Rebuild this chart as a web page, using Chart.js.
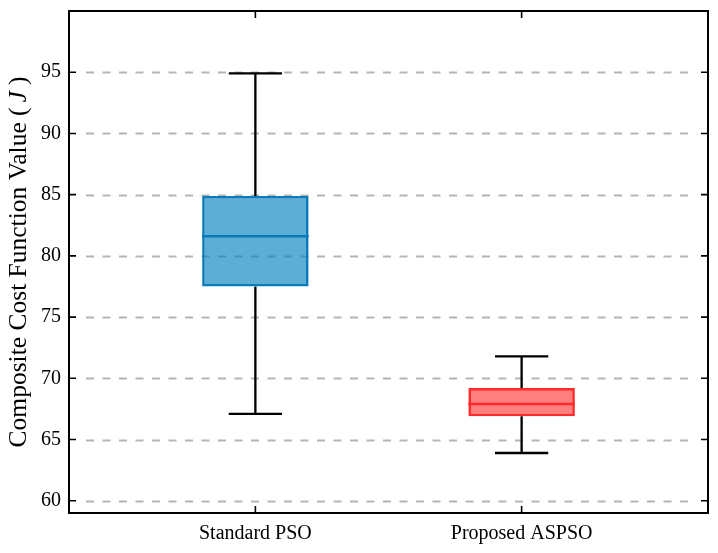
<!DOCTYPE html>
<html>
<head>
<meta charset="utf-8">
<title>Composite cost box plot</title>
<script src="https://cdn.jsdelivr.net/npm/chart.js@4.4.0/dist/chart.umd.min.js"></script>
<style>
    html, body { margin: 0; padding: 0; background: #ffffff; }
</style>
</head>
<body>
<canvas id="costChart" width="718" height="553"></canvas>
<script>
// Box plot statistics
const categories = ['Standard PSO', 'Proposed ASPSO'];
const positions = [1, 2];
const whiskerLow = [67.1, 63.9];
const q1Values = [77.5, 66.9];
const medianValues = [81.6, 67.9];
const q3Values = [84.9, 69.2];
const whiskerHigh = [94.9, 71.8];
const yTickValues = [60, 65, 70, 75, 80, 85, 90, 95];

const fillColors = ['rgba(0, 129, 188, 0.64)', 'rgba(255, 0, 0, 0.5)'];
const edgeColors = ['#0a7bbb', '#ff2a2a'];

const SERIF = "'Liberation Serif', 'Times New Roman', serif";
const CAP_HALF = 0.1;     // whisker cap half width (x units)
const BOX_HALF = 0.2;     // box half width (x units)

// Build datasets from the arrays
const datasets = [];

datasets.push({
    type: 'bar',
    label: 'IQR',
    data: positions.map((p, i) => ({ x: p, y: [q1Values[i], q3Values[i]] })),
    backgroundColor: fillColors,
    borderColor: edgeColors,
    borderWidth: 2.6,
    borderSkipped: false,
    barPercentage: BOX_HALF * 2,
    categoryPercentage: 1,
    order: 2
});

positions.forEach((p, i) => {
    // whiskers + caps, gaps split the segments
    datasets.push({
        type: 'line',
        label: 'whisker ' + categories[i],
        data: [
            { x: p - CAP_HALF, y: whiskerHigh[i] }, { x: p + CAP_HALF, y: whiskerHigh[i] },
            { x: p, y: null },
            { x: p, y: whiskerHigh[i] }, { x: p, y: q3Values[i] },
            { x: p, y: null },
            { x: p, y: q1Values[i] }, { x: p, y: whiskerLow[i] },
            { x: p, y: null },
            { x: p - CAP_HALF, y: whiskerLow[i] }, { x: p + CAP_HALF, y: whiskerLow[i] }
        ],
        borderColor: '#000000',
        borderWidth: 2.3,
        borderCapStyle: 'butt',
        pointRadius: 0,
        spanGaps: false,
        fill: false,
        tension: 0,
        order: 3
    });
    // median line
    datasets.push({
        type: 'line',
        label: 'median ' + categories[i],
        data: [
            { x: p - BOX_HALF, y: medianValues[i] },
            { x: p + BOX_HALF, y: medianValues[i] }
        ],
        borderColor: edgeColors[i],
        borderWidth: 2.6,
        borderCapStyle: 'butt',
        pointRadius: 0,
        fill: false,
        order: 1
    });
});

// dashed horizontal grid, slightly inset like the original
const dashedGrid = {
    id: 'dashedGrid',
    beforeDatasetsDraw(chart) {
        const { ctx, chartArea, scales } = chart;
        ctx.save();
        ctx.strokeStyle = '#b5b5b5';
        ctx.lineWidth = 1.8;
        ctx.setLineDash([8, 8.5]);
        yTickValues.forEach(v => {
            const y = Math.round(scales.y.getPixelForValue(v)) + 0.5;
            ctx.beginPath();
            ctx.moveTo(chartArea.left + 17, y);
            ctx.lineTo(chartArea.right - 17, y);
            ctx.stroke();
        });
        ctx.restore();
    }
};

// black frame with inward ticks on all four sides
const frameTicks = {
    id: 'frameTicks',
    afterDatasetsDraw(chart) {
        const { ctx, chartArea, scales } = chart;
        const { left, right, top, bottom } = chartArea;
        const len = 7;
        ctx.save();
        ctx.strokeStyle = '#000000';
        ctx.lineWidth = 1.6;
        ctx.beginPath();
        yTickValues.forEach(v => {
            const y = scales.y.getPixelForValue(v);
            ctx.moveTo(left, y); ctx.lineTo(left + len, y);
            ctx.moveTo(right, y); ctx.lineTo(right - len, y);
        });
        positions.forEach(p => {
            const x = scales.x.getPixelForValue(p);
            ctx.moveTo(x, bottom); ctx.lineTo(x, bottom - len);
            ctx.moveTo(x, top); ctx.lineTo(x, top + len);
        });
        ctx.stroke();
        ctx.lineWidth = 2;
        ctx.strokeRect(left, top, right - left, bottom - top);
        ctx.restore();
    }
};

// y axis title with italic J
const yTitle = {
    id: 'yTitle',
    afterDraw(chart) {
        const { ctx, chartArea } = chart;
        const normal = '25.5px ' + SERIF;
        const italic = 'italic 25.5px ' + SERIF;
        const parts = [
            { t: 'Composite Cost Function Value (', f: normal, gap: 5 },
            { t: 'J', f: italic, gap: 6 },
            { t: ')', f: normal, gap: 0 }
        ];
        let total = 0;
        parts.forEach(part => {
            ctx.font = part.f;
            part.w = ctx.measureText(part.t).width;
            total += part.w + part.gap;
        });
        ctx.save();
        ctx.translate(26, (chartArea.top + chartArea.bottom) / 2);
        ctx.rotate(-Math.PI / 2);
        ctx.fillStyle = '#000000';
        ctx.textBaseline = 'alphabetic';
        let x = -total / 2;
        parts.forEach(part => {
            ctx.font = part.f;
            ctx.fillText(part.t, x, 0);
            x += part.w + part.gap;
        });
        ctx.restore();
    }
};

new Chart(document.getElementById('costChart'), {
    type: 'bar',
    data: { datasets: datasets },
    options: {
        responsive: false,
        animation: false,
        layout: { padding: { top: 11, right: 10, left: 0, bottom: 0 } },
        plugins: {
            legend: { display: false },
            tooltip: { enabled: false }
        },
        scales: {
            x: {
                type: 'linear',
                min: 0.3,
                max: 2.7,
                offset: false,
                grid: { display: false, drawTicks: false },
                border: { display: false },
                afterBuildTicks: scale => {
                    scale.ticks = positions.map(p => ({ value: p }));
                },
                afterFit: scale => {
                    scale.height = 40;
                    scale.paddingLeft = 0;
                    scale.paddingRight = 0;
                },
                ticks: {
                    padding: 9,
                    color: '#000000',
                    font: { family: SERIF, size: 20 },
                    maxRotation: 0,
                    autoSkip: false,
                    callback: value => categories[positions.indexOf(value)]
                }
            },
            y: {
                min: 59,
                max: 100,
                grid: { display: false, drawTicks: false },
                border: { display: false },
                afterBuildTicks: scale => {
                    scale.ticks = yTickValues.map(v => ({ value: v }));
                },
                afterFit: scale => {
                    scale.width = 69;
                    scale.paddingTop = 0;
                    scale.paddingBottom = 0;
                },
                ticks: {
                    padding: 8,
                    color: '#000000',
                    font: { family: SERIF, size: 20 },
                    callback: value => String(value)
                }
            }
        }
    },
    plugins: [dashedGrid, frameTicks, yTitle]
});
</script>
</body>
</html>
